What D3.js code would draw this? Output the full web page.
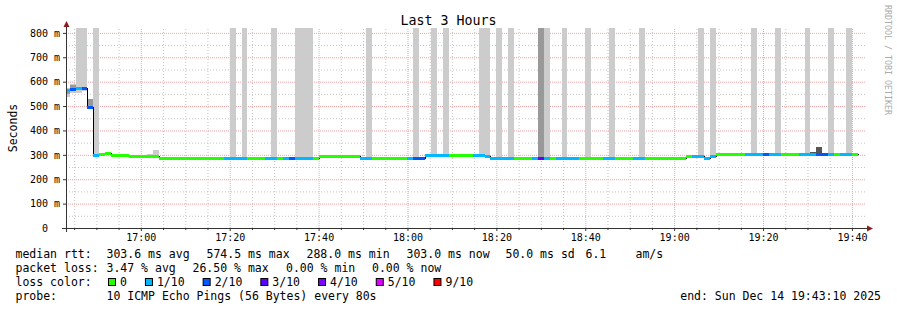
<!DOCTYPE html>
<html>
<head>
<meta charset="utf-8">
<script src="https://cdn.jsdelivr.net/npm/d3@7"></script>
<style>
body { margin: 0; background: #fff; }
text { font-family: "DejaVu Sans Mono", monospace; fill: #000; }
</style>
</head>
<body>
<div id="chart"></div>
<script>
// values: one value per 80 s step, first step starts 16:42:40
const firstStep = new Date(2025, 11, 14, 16, 42, 40);
const stepSeconds = 80;
const viewStart = new Date(2025, 11, 14, 16, 43, 10);
const viewEnd = new Date(2025, 11, 14, 19, 43, 10);

const medianMs = [
  566, 568, 573, 574.5, 497, 300, 302, 306, 300, 301,
  300, 297, 295, 295, 295, 295, 288, 288, 288, 288,
  288, 288, 288, 288, 288, 288, 288, 288, 288, 288,
  288, 288, 288, 288, 288, 288, 288, 288, 288, 288,
  288, 288, 288, 294, 294, 294, 294, 294, 294, 294,
  288, 288, 288, 288, 288, 288, 288, 288, 288, 288,
  288, 300, 300, 300, 300, 300, 300, 300, 300, 300,
  300, 297, 288, 288, 288, 288, 288, 288, 288, 288,
  288, 288, 288, 288, 288, 288, 288, 288, 288, 288,
  288, 288, 288, 288, 288, 288, 288, 288, 288, 288,
  288, 288, 288, 288, 288, 294, 297, 297, 287, 294,
  303, 303, 303, 303, 303, 303, 303, 303, 303, 303,
  303, 303, 303, 303, 303, 303, 303, 304, 304, 303,
  303, 303, 303, 303
];

// lost pings out of 10, per step
const lossTenths = [
  1, 2, 1, 2, 2, 1, 0, 0, 0, 0,
  0, 0, 0, 0, 0, 0, 0, 0, 0, 0,
  0, 0, 0, 0, 0, 0, 0, 1, 1, 1,
  1, 0, 0, 0, 1, 1, 0, 1, 2, 1,
  1, 1, 0, 0, 0, 0, 0, 0, 0, 0,
  1, 1, 0, 0, 0, 0, 0, 0, 1, 2,
  2, 1, 1, 1, 1, 0, 0, 0, 0, 1,
  1, 1, 1, 1, 1, 1, 0, 0, 0, 1,
  3, 1, 0, 1, 1, 1, 1, 0, 0, 0,
  0, 1, 1, 0, 0, 0, 1, 1, 0, 0,
  0, 0, 0, 0, 0, 0, 1, 1, 1, 1,
  0, 0, 0, 0, 0, 1, 1, 1, 2, 1,
  1, 0, 0, 0, 1, 1, 1, 2, 2, 1,
  0, 1, 1, 0
];

// steps whose slowest pings went off the top of the graph
const tallSmokeSteps = [2, 3, 5, 28, 30, 35, 39, 40, 41, 51, 59, 62, 64, 70, 71, 73, 75,
  81, 84, 88, 92, 97, 107, 109, 116, 120, 125, 129, 132];
const denseTallSteps = [80];

// other smoke: [step, low ms, high ms, density 0..2]
const smokeBands = [
  [0, 538, 575, 0], [0, 548, 570, 1],
  [1, 552, 590, 0], [1, 562, 587, 1],
  [2, 555, 580, 0], [2, 578, 600, 1],
  [3, 560, 580, 0], [3, 578, 600, 1],
  [4, 495, 530, 1],
  [5, 300, 309, 1],
  [6, 302, 308, 0], [7, 304, 313, 0],
  [14, 295, 303, 0], [15, 293, 320, 0],
  [126, 306, 312, 2], [127, 304, 332, 2]
];

const yMax = 820;
const yTicks = [0, 100, 200, 300, 400, 500, 600, 700, 800];

const lossSteps = [0, 1, 2, 3, 4, 5, 9];
const lossLabels = ["0", "1/10", "2/10", "3/10", "4/10", "5/10", "9/10"];
const rttStats = ["303.6 ms avg", "574.5 ms max", "288.0 ms min", "303.0 ms now", "50.0 ms sd", "6.1", "am/s"];
const lossStats = ["3.47 % avg", "26.50 % max", "0.00 % min", "0.00 % now"];
const probeText = "10 ICMP Echo Pings (56 Bytes) every 80s";
const endText = "end: Sun Dec 14 19:43:10 2025";

const width = 897;
const height = 310;
const plot = { left: 66, right: 866, top: 28, bottom: 228 };

const lossColor = d3.scaleOrdinal()
  .domain(lossSteps)
  .range(["#26ff00", "#00b8ff", "#0059ff", "#5e00ff", "#7e00ff", "#dd00ff", "#ff0000"]);
const smokeColor = ["#cccccc", "#999999", "#555555"];

const svg = d3.select("#chart").append("svg")
  .attr("width", width)
  .attr("height", height);

svg.append("rect").attr("width", width).attr("height", height).attr("fill", "#fff");

const x = d3.scaleTime().domain([viewStart, viewEnd]).range([plot.left, plot.right]);
const y = d3.scaleLinear().domain([0, yMax]).range([plot.bottom, plot.top]);
const stepTime = i => new Date(+firstStep + i * stepSeconds * 1000);
// whole-pixel edges so neighbouring steps join without seams
const sx = i => Math.round(x(stepTime(i)));

svg.append("clipPath").attr("id", "plot-clip")
  .append("rect")
  .attr("x", plot.left).attr("y", plot.top)
  .attr("width", plot.right - plot.left).attr("height", plot.bottom - plot.top);

// grid
const minorTimes = d3.timeMinute.every(5).range(viewStart, viewEnd).filter(d => d.getMinutes() % 20 !== 0);
const majorTimes = d3.timeMinute.every(20).range(viewStart, viewEnd);
const minorMs = d3.range(50, yMax, 100);

function gridStyle(g, color, dash) {
  g.select(".domain").remove();
  g.selectAll("line").attr("stroke", color).attr("stroke-dasharray", dash);
}

svg.append("g")
  .attr("transform", `translate(0,${plot.bottom})`)
  .call(d3.axisBottom(x).tickValues(minorTimes).tickSize(-(plot.bottom - plot.top)).tickFormat(""))
  .call(g => gridStyle(g, "#c4c4c4", "1,2"));

svg.append("g")
  .attr("transform", `translate(${plot.left},0)`)
  .call(d3.axisLeft(y).tickValues(minorMs).tickSize(-(plot.right - plot.left)).tickFormat(""))
  .call(g => gridStyle(g, "#c4c4c4", "1,2"));

svg.append("g")
  .attr("transform", `translate(0,${plot.bottom})`)
  .call(d3.axisBottom(x).tickValues(majorTimes).tickSize(-(plot.bottom - plot.top)).tickFormat(""))
  .call(g => gridStyle(g, "#eea3a3", "1,1"));

svg.append("g")
  .attr("transform", `translate(${plot.left},0)`)
  .call(d3.axisLeft(y).tickValues(yTicks.filter(v => v > 0)).tickSize(-(plot.right - plot.left)).tickFormat(""))
  .call(g => gridStyle(g, "#eea3a3", "1,1"));

// smoke
const chart = svg.append("g").attr("clip-path", "url(#plot-clip)");

const smoke = smokeBands.map(d => ({ step: d[0], lo: d[1], hi: d[2], band: d[3] }))
  .concat(tallSmokeSteps.map(s => ({ step: s, lo: medianMs[s], hi: yMax, band: 0 })))
  .concat(denseTallSteps.map(s => ({ step: s, lo: medianMs[s], hi: yMax, band: 1 })));

chart.selectAll("rect.smoke")
  .data(smoke)
  .enter()
  .append("rect")
  .attr("class", "smoke")
  .attr("x", d => sx(d.step))
  .attr("width", d => sx(d.step + 1) - sx(d.step))
  .attr("y", d => Math.round(y(d.hi)))
  .attr("height", d => Math.round(y(d.lo)) - Math.round(y(d.hi)))
  .attr("fill", d => smokeColor[d.band])
  .attr("shape-rendering", "crispEdges");

// median: thin black step line, then loss-coloured segments
const points = medianMs.map((v, i) => [stepTime(i), v]);
points.push([stepTime(medianMs.length), medianMs[medianMs.length - 1]]);

chart.append("path")
  .datum(points)
  .attr("fill", "none")
  .attr("stroke", "#000")
  .attr("stroke-width", 1)
  .attr("shape-rendering", "crispEdges")
  .attr("d", d3.line().x(d => Math.round(x(d[0])) + 0.5).y(d => Math.round(y(d[1])) + 0.5).curve(d3.curveStepAfter));

chart.selectAll("rect.median")
  .data(medianMs)
  .enter()
  .append("rect")
  .attr("class", "median")
  .attr("x", (d, i) => sx(i))
  .attr("width", (d, i) => sx(i + 1) - sx(i))
  .attr("y", d => Math.round(y(d)) - 1)
  .attr("height", 3)
  .attr("fill", (d, i) => lossColor(lossTenths[i]))
  .attr("shape-rendering", "crispEdges");

// axes
const axisColor = "#333";
const arrowColor = "#8c1c1c";

svg.append("g")
  .attr("transform", `translate(0,${plot.bottom})`)
  .call(d3.axisBottom(x).tickValues(minorTimes).tickSize(2).tickFormat(""))
  .call(g => g.select(".domain").remove())
  .selectAll("line").attr("stroke", axisColor);

const xAxis = svg.append("g")
  .attr("transform", `translate(0,${plot.bottom})`)
  .call(d3.axisBottom(x).tickValues(majorTimes).tickSize(3).tickPadding(3).tickFormat(d3.timeFormat("%H:%M")));
xAxis.select(".domain").remove();
xAxis.selectAll("line").attr("stroke", axisColor);
xAxis.selectAll("text").attr("font-family", "DejaVu Sans Mono").attr("font-size", "10px").attr("fill", "#000");

const yAxis = svg.append("g")
  .attr("transform", `translate(${plot.left},0)`)
  .call(d3.axisLeft(y).tickValues(yTicks).tickSize(3).tickPadding(3)
    .tickFormat(v => v === 0 ? "0\u00a0\u00a0" : v + "\u00a0m"));
yAxis.select(".domain").remove();
yAxis.selectAll("line").attr("stroke", axisColor);
yAxis.selectAll("text").attr("font-family", "DejaVu Sans Mono").attr("font-size", "10px").attr("fill", "#000");

svg.append("line")
  .attr("x1", plot.left - 4).attr("x2", plot.right + 2)
  .attr("y1", plot.bottom + 0.5).attr("y2", plot.bottom + 0.5)
  .attr("stroke", axisColor);
svg.append("line")
  .attr("x1", plot.left + 0.5).attr("x2", plot.left + 0.5)
  .attr("y1", plot.bottom + 4).attr("y2", plot.top - 3)
  .attr("stroke", axisColor);
svg.append("path")
  .attr("d", `M${plot.right + 1},${plot.bottom - 2.5}L${plot.right + 7},${plot.bottom + 0.5}L${plot.right + 1},${plot.bottom + 3.5}Z`)
  .attr("fill", arrowColor);
svg.append("path")
  .attr("d", `M${plot.left - 2.5},${plot.top - 1}L${plot.left + 0.5},${plot.top - 7}L${plot.left + 3.5},${plot.top - 1}Z`)
  .attr("fill", arrowColor);

// titles
svg.append("text")
  .attr("x", width / 2).attr("y", 25)
  .attr("text-anchor", "middle")
  .attr("font-size", "13.3px")
  .text("Last 3 Hours");

svg.append("text")
  .attr("transform", `translate(16.5,${(plot.top + plot.bottom) / 2}) rotate(-90)`)
  .attr("text-anchor", "middle")
  .attr("font-size", "11.5px")
  .text("Seconds");

svg.append("text")
  .attr("transform", "translate(885,5) rotate(90)")
  .attr("font-size", "8.3px")
  .style("fill", "#aaa")
  .text("RRDTOOL / TOBI OETIKER");

// legend
const legend = svg.append("g").attr("font-size", "11.5px");
const rowY = [258, 272, 286, 300];
const labelX = 15.5;

legend.append("text").attr("x", labelX).attr("y", rowY[0]).text("median rtt:");
const rttX = [106.5, 206.5, 306.5, 406.5, 505.5, 585.5, 635.5];
rttStats.forEach((s, i) => legend.append("text").attr("x", rttX[i]).attr("y", rowY[0]).text(s));

legend.append("text").attr("x", labelX).attr("y", rowY[1]).text("packet loss:");
const lossX = [106.5, 192.5, 286, 372];
lossStats.forEach((s, i) => legend.append("text").attr("x", lossX[i]).attr("y", rowY[1]).text(s));

legend.append("text").attr("x", labelX).attr("y", rowY[2]).text("loss color:");
let boxX = 108.5;
lossSteps.forEach((l, i) => {
  legend.append("rect")
    .attr("x", boxX).attr("y", rowY[2] - 7.5)
    .attr("width", 7).attr("height", 7)
    .attr("fill", lossColor(l))
    .attr("stroke", "#000");
  const t = legend.append("text").attr("x", boxX + 11.5).attr("y", rowY[2]).text(lossLabels[i]);
  boxX += 12 + t.node().getComputedTextLength() + 18;
});

legend.append("text").attr("x", labelX).attr("y", rowY[3]).text("probe:");
legend.append("text").attr("x", 106.5).attr("y", rowY[3]).text(probeText);
legend.append("text").attr("x", 881).attr("y", rowY[3]).attr("text-anchor", "end").text(endText);
</script>
</body>
</html>
